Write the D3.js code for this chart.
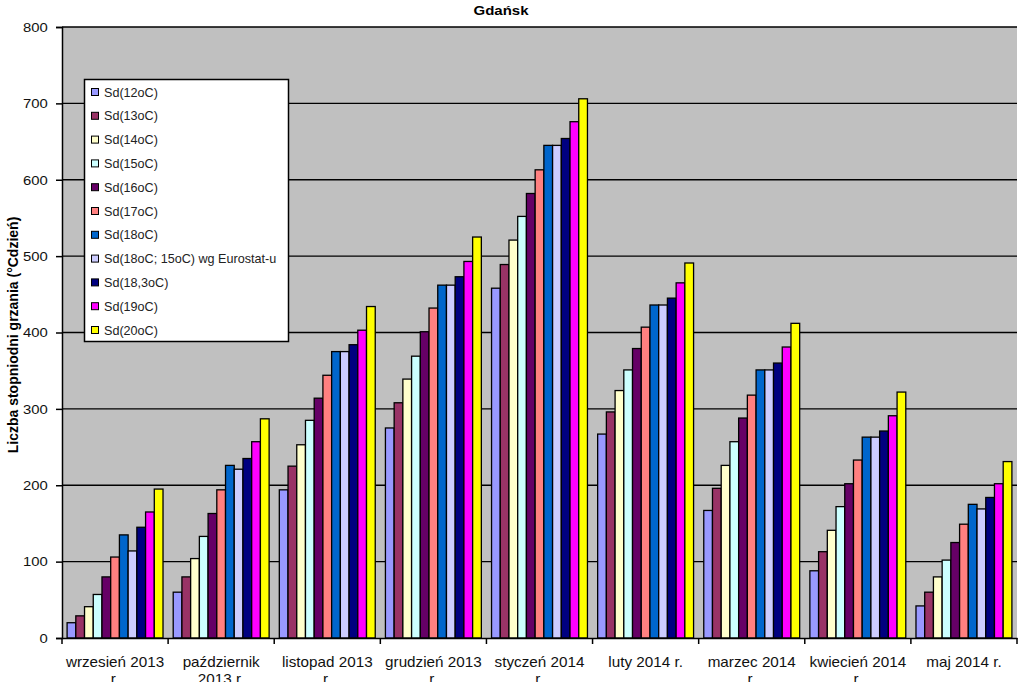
<!DOCTYPE html>
<html><head><meta charset="utf-8">
<script src="https://cdn.jsdelivr.net/npm/d3@7"></script>
<style>
html,body{margin:0;padding:0;background:#fff;}
svg{display:block;font-family:"Liberation Sans",Arial,sans-serif;}
</style></head>
<body><svg id="c" width="1024" height="682"></svg>
<script>
const title = "Gdańsk";
const yTitle = "Liczba stopniodni grzania (°Cdzień)";
const categories = ["wrzesień 2013 r.","październik 2013 r.","listopad 2013 r.","grudzień 2013 r.","styczeń 2014 r.","luty 2014 r.","marzec 2014 r.","kwiecień 2014 r.","maj 2014 r."];
const categoryLines = [["wrzesień 2013","r."],["październik","2013 r."],["listopad 2013","r."],["grudzień 2013","r."],["styczeń 2014","r."],["luty 2014 r."],["marzec 2014","r."],["kwiecień 2014","r."],["maj 2014 r."]];
const seriesNames = ["Sd(12oC)","Sd(13oC)","Sd(14oC)","Sd(15oC)","Sd(16oC)","Sd(17oC)","Sd(18oC)","Sd(18oC; 15oC) wg Eurostat-u","Sd(18,3oC)","Sd(19oC)","Sd(20oC)"];
const seriesColors = ["#9999FF","#993366","#FFFFCC","#CCFFFF","#660066","#FF8080","#0066CC","#CCCCFF","#000080","#FF00FF","#FFFF00"];
const s12  = [20, 60, 194, 275, 458, 267, 167, 88, 42];
const s13  = [29, 80, 225, 308, 489, 296, 196, 113, 60];
const s14  = [41, 104, 253, 339, 521, 324, 226, 141, 80];
const s15  = [57, 133, 285, 369, 552, 351, 257, 172, 102];
const s16  = [80, 163, 314, 401, 582, 379, 288, 202, 125];
const s17  = [106, 194, 344, 432, 613, 407, 318, 233, 149];
const s18  = [135, 226, 375, 462, 645, 436, 351, 263, 175];
const sEu  = [114, 221, 375, 462, 645, 436, 351, 263, 169];
const s183 = [145, 235, 384, 473, 654, 445, 360, 271, 184];
const s19  = [165, 257, 403, 493, 676, 465, 381, 291, 202];
const s20  = [195, 287, 434, 525, 706, 491, 412, 322, 231];
const yTicks = [0,100,200,300,400,500,600,700,800];

const seriesValues = [s12,s13,s14,s15,s16,s17,s18,sEu,s183,s19,s20];

const svg = d3.select("#c");
const L = 62, R = 1017, T = 27, B = 638;

const x0 = d3.scaleBand().domain(categories).range([L, R]).padding(0);
const bw = x0.bandwidth();
const x1 = d3.scaleBand().domain(seriesNames).range([bw*0.048, bw*0.952]).padding(0);
const y = d3.scaleLinear().domain([0, 800]).range([B, T]);

// plot background
svg.append("rect").attr("x", L).attr("y", T).attr("width", R-L).attr("height", B-T).attr("fill", "#C0C0C0");

// gridlines
svg.append("g").selectAll("line").data(yTicks.filter(d=>d>0)).join("line")
  .attr("x1", L).attr("x2", R).attr("y1", d=>y(d)).attr("y2", d=>y(d))
  .attr("stroke", "#000").attr("stroke-width", 1.3);

// bars
const groups = svg.append("g").selectAll("g").data(categories).join("g")
  .attr("transform", d=>`translate(${x0(d)},0)`);
groups.selectAll("rect").data((c,i)=>seriesNames.map((s,j)=>({s, j, v: seriesValues[j][i]}))).join("rect")
  .attr("x", d=>x1(d.s)).attr("width", x1.bandwidth())
  .attr("y", d=>y(d.v)).attr("height", d=>y(0)-y(d.v))
  .attr("fill", d=>seriesColors[d.j]).attr("stroke", "#000").attr("stroke-width", 1.3);

// y axis
const yAxis = svg.append("g").attr("transform", `translate(${L},0)`)
  .call(d3.axisLeft(y).tickValues(yTicks).tickSize(6).tickPadding(7));
yAxis.select(".domain").attr("stroke","#000").attr("stroke-width",1.5);
yAxis.selectAll(".tick line").attr("stroke","#000").attr("stroke-width",1.5);
yAxis.selectAll(".tick text").attr("font-size", 13.5).attr("fill","#111")
  .attr("font-family","Liberation Sans, Arial, sans-serif").attr("transform","scale(1.1,1)");

// x axis
const xAxis = svg.append("g").attr("transform", `translate(0,${B})`)
  .call(d3.axisBottom(x0).tickSize(0).tickFormat(""));
xAxis.select(".domain").attr("stroke","#000").attr("stroke-width",1.5);
// category boundary ticks
svg.append("g").selectAll("line").data(categories.concat(["__end"])).join("line")
  .attr("x1", (d,i)=> i < categories.length ? x0(d) : R).attr("x2", (d,i)=> i < categories.length ? x0(d) : R)
  .attr("y1", B).attr("y2", B+6).attr("stroke","#000").attr("stroke-width",1.5);
// category labels
const lab = svg.append("g").selectAll("text").data(categories).join("text")
  .attr("transform", d=>`translate(${x0(d)+bw/2},${B+29}) scale(1.09,1)`)
  .attr("text-anchor","middle").attr("font-size", 14).attr("fill","#111");
lab.each(function(d,i){
  const t = d3.select(this);
  categoryLines[i].forEach((ln,k)=>{
    t.append("tspan").attr("x", 0).attr("dy", k===0?0:17).text(ln);
  });
});

// title
svg.append("text").attr("transform", "translate(501,15) scale(1.2,1)").attr("text-anchor","middle")
  .attr("font-size", 12.5).attr("font-weight","bold").text(title);

// y title
svg.append("text").attr("transform", `translate(18,335) rotate(-90)`)
  .attr("text-anchor","middle").attr("font-size", 14).attr("font-weight","bold").text(yTitle);

// legend
const lg = svg.append("g");
lg.append("rect").attr("x", 84.5).attr("y", 79.5).attr("width", 204).attr("height", 262)
  .attr("fill","#fff").attr("stroke","#000").attr("stroke-width",1.5);
const ly = d3.scalePoint().domain(seriesNames).range([92, 330]);
const items = lg.selectAll("g").data(seriesNames).join("g")
  .attr("transform", d=>`translate(0,${ly(d)})`);
items.append("rect").attr("x", 91.5).attr("y", -3.5).attr("width", 7).attr("height", 7)
  .attr("fill", (d,i)=>seriesColors[i]).attr("stroke","#000").attr("stroke-width",1);
items.append("text").attr("x", 104).attr("y", 4.5).attr("font-size", 12.6).attr("fill","#222").text(d=>d);
</script>
</body></html>
